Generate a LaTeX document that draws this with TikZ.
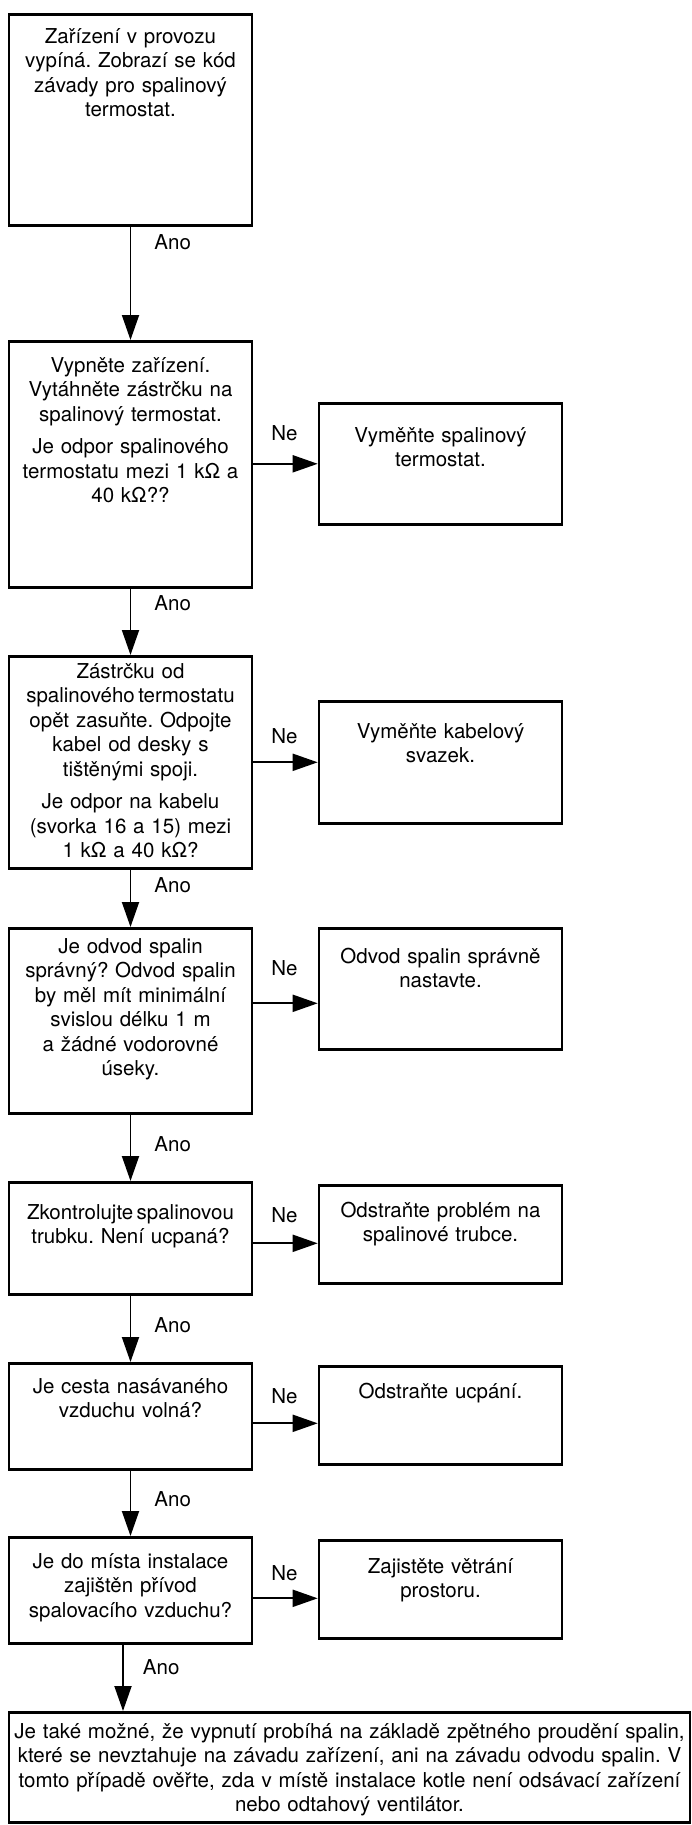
\documentclass[tikz,border=0pt]{standalone}
\usepackage{fontspec}
\setmainfont{TeX Gyre Heros}
\usetikzlibrary{arrows.meta}
\frenchspacing
\newcommand\krokfont{\fontsize{20.5}{24.5}\selectfont}
\tikzset{krok/.style={draw,line width=2.6pt,text width=225pt,align=center,inner xsep=9pt,inner ysep=0pt,anchor=north,font=\krokfont},sipka/.style={-{Triangle[length=25pt,width=17pt]},line width=1.9pt},odp/.style={font=\krokfont,inner sep=0pt,anchor=west,pos=0}}

\begin{document}
\begin{tikzpicture}[x=1pt,y=-1pt]
\useasboundingbox (0,0) rectangle (692,1825);
\node[krok,text height=29pt,text depth=182pt] (zap) at (130.5,13) {Zařízení v provozu\\ vypíná. Zobrazí se kód\\ závady pro spalinový\\ termostat.};
\node[krok,text height=31pt,text depth=215pt] (vyp) at (130.5,340) {Vypněte zařízení.\\ Vytáhněte zástrčku na\\ spalinový termostat.\\[8pt] Je odpor spalinového\\ termostatu mezi 1~kΩ a\\ 40~kΩ??};
\node[krok,text height=39pt,text depth=82pt] (tst) at (440.5,402) {Vyměňte spalinový\\ termostat.};
\node[krok,text height=22pt,text depth=190pt] (zas) at (130.5,655) {Zástrčku od\\ spalinového\,termostatu\\ opět zasuňte. Odpojte\\ kabel od desky s\\ tištěnými spoji.\\[8pt] Je odpor na kabelu\\ (svorka 16 a 15) mezi\\ 1~kΩ a 40~kΩ?};
\node[krok,text height=37pt,text depth=85pt] (kab) at (440.5,700) {Vyměňte kabelový\\ svazek.};
\node[krok,text height=25pt,text depth=160pt] (odv) at (130.5,927) {Je odvod spalin\\ správný? Odvod spalin\\ by měl mít minimální\\ svislou délku 1 m\\ a žádné vodorovné\\ úseky.};
\node[krok,text height=35pt,text depth=86pt] (nast) at (440.5,927) {Odvod spalin správně\\ nastavte.};
\node[krok,text height=37pt,text depth=75pt] (trub) at (130.5,1181) {Zkontrolujte\,spalinovou\\ trubku. Není ucpaná?};
\node[krok,text height=32pt,text depth=66pt] (odtr) at (440.5,1184) {Odstraňte problém na\\ spalinové trubce.};
\node[krok,text height=30pt,text depth=76pt] (vzd) at (130.5,1362) {Je cesta nasávaného\\ vzduchu volná?};
\node[krok,text height=32pt,text depth=66pt] (ucp) at (440.5,1365) {Odstraňte ucpání.};
\node[krok,text height=31pt,text depth=75pt] (prv) at (130.5,1536) {Je do místa instalace\\ zajištěn přívod\\ spalovacího vzduchu?};
\node[krok,text height=33pt,text depth=65pt] (vetr) at (440.5,1539) {Zajistěte větrání\\ prostoru.};
\node[krok,text width=671pt,inner xsep=5pt,text height=26pt,text depth=84pt] (zpet) at (349.5,1711) {Je také možné, že vypnutí probíhá na základě zpětného proudění spalin,\\ které se nevztahuje na závadu zařízení, ani na závadu odvodu spalin. V\\ tomto případě ověřte, zda v místě instalace kotle není odsávací zařízení\\ nebo odtahový ventilátor.};
% Ano
\draw[sipka] (zap) -- node[odp,xshift=23pt,yshift=-16pt]{Ano} (vyp);
\draw[sipka] (vyp) -- node[odp,xshift=23pt,yshift=-15pt]{Ano} (zas);
\draw[sipka] (zas) -- node[odp,xshift=23pt,yshift=-16pt]{Ano} (odv);
\draw[sipka] (odv) -- node[odp,xshift=23pt,yshift=-30pt]{Ano} (trub);
\draw[sipka] (trub) -- node[odp,xshift=23pt,yshift=-30pt]{Ano} (vzd);
\draw[sipka] (vzd) -- node[odp,xshift=23pt,yshift=-29pt]{Ano} (prv);
\coordinate (a7) at ([xshift=-7.5pt]prv.south);
\draw[sipka] (a7) -- node[odp,xshift=19pt,yshift=-23pt]{Ano} (a7 |- zpet.north);
% Ne
\coordinate (n4) at ([yshift=-14.5pt]nast.west);
\coordinate (n5) at ([yshift=-9pt]odtr.west);
\coordinate (n6) at ([yshift=-8pt]ucp.west);
\coordinate (n7) at ([yshift=-9pt]vetr.west);
\draw[sipka] (vyp.east |- tst.west) -- node[odp,xshift=17pt,yshift=31pt]{Ne} (tst.west);
\draw[sipka] (zas.east |- kab.west) -- node[odp,xshift=17pt,yshift=26pt]{Ne} (kab.west);
\draw[sipka] (odv.east |- n4) -- node[odp,xshift=17pt,yshift=35pt]{Ne} (n4);
\draw[sipka] (trub.east |- n5) -- node[odp,xshift=17pt,yshift=28pt]{Ne} (n5);
\draw[sipka] (vzd.east |- n6) -- node[odp,xshift=17pt,yshift=27pt]{Ne} (n6);
\draw[sipka] (prv.east |- n7) -- node[odp,xshift=17pt,yshift=25pt]{Ne} (n7);
\end{tikzpicture}
\end{document}
